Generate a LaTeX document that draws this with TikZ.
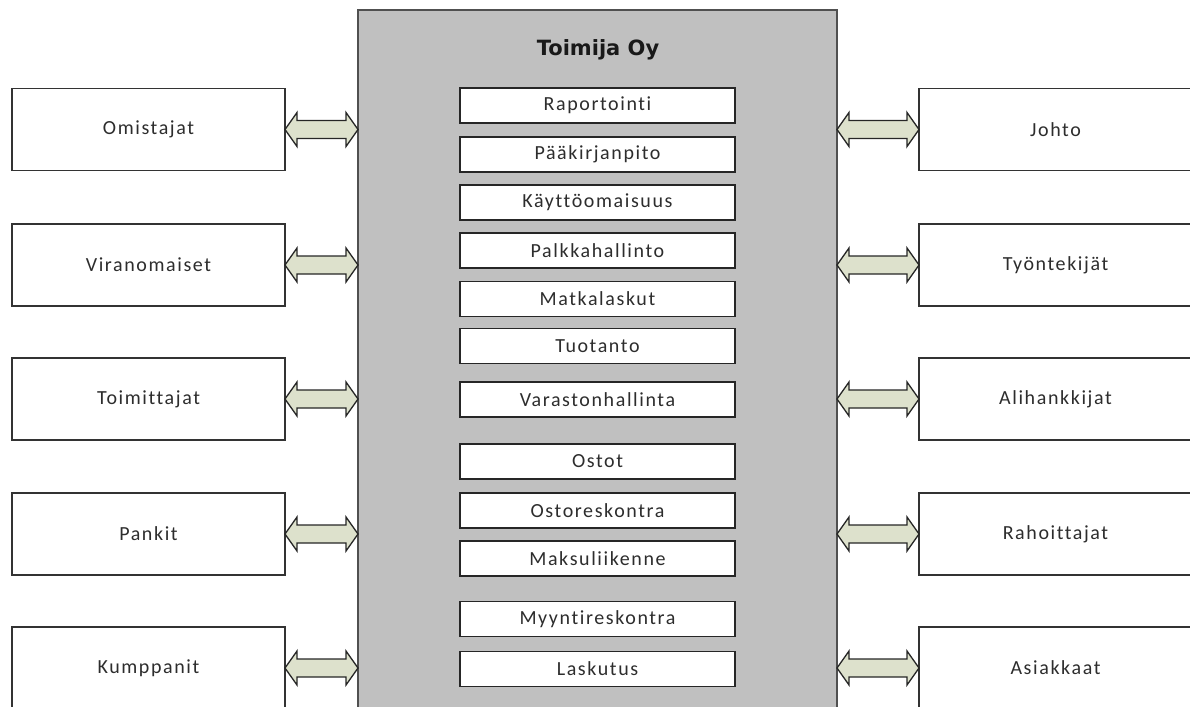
\documentclass[tikz,border=0pt]{standalone}
\usepackage{fontspec}
\setmainfont{Carlito}[LetterSpace=8,Ligatures={NoCommon,NoRare,NoContextual}]
\newfontfamily\titlefont{DejaVu Sans}
\usetikzlibrary{calc,positioning}
\definecolor{firmgray}{RGB}{192,192,192}
\definecolor{firmedge}{RGB}{80,80,80}
\definecolor{linkfill}{RGB}{221,225,204}
\definecolor{txtgray}{RGB}{45,45,45}
\newcommand{\dblarrow}[2]{%
  \filldraw[link] (#1) -- ($(#1)+(12,-17)$) -- ($(#1)+(12,-9)$) -- ($(#2)+(-12,-9)$) -- ($(#2)+(-12,-17)$) -- (#2)
    -- ($(#2)+(-12,17)$) -- ($(#2)+(-12,9)$) -- ($(#1)+(12,9)$) -- ($(#1)+(12,17)$) -- cycle;}

\begin{document}
\begin{tikzpicture}[
    x=1pt, y=-1pt,
    font=\fontsize{20pt}{22pt}\selectfont,
    party/.style={draw=black!80, line width=1.3pt, fill=white, text=txtgray, minimum width=273pt, minimum height=82pt, outer sep=0pt},
    unit/.style={draw=black!85, line width=1.5pt, fill=white, text=txtgray, minimum width=275pt, minimum height=35pt, outer sep=0pt},
    firm/.style={draw=firmedge, line width=2pt, fill=firmgray, minimum width=479pt, minimum height=720pt, outer sep=0pt},
    link/.style={draw=black!85, line width=1.3pt, fill=linkfill, line join=miter}
]
    \useasboundingbox (0,0) rectangle (1190,706);

    \node[firm] (firm) at (597.5,370) {};
    \node[text=black!90, font=\titlefont\bfseries\fontsize{21pt}{24pt}\selectfont] (title) at (598,50) {Toimija Oy};

    \node[unit] (rap) at (597.5,105.5) {Raportointi};
    \node[unit] (paak) at (597.5,154.5) {Pääkirjanpito};
    \node[unit] (kaytto) at (597.5,202.5) {Käyttöomaisuus};
    \node[unit] (palkka) at (597.5,250.5) {Palkkahallinto};
    \node[unit] (matka) at (597.5,299) {Matkalaskut};
    \node[unit] (tuot) at (597.5,346) {Tuotanto};
    \node[unit] (varasto) at (597.5,399.5) {Varastonhallinta};
    \node[unit] (ostot) at (597.5,461.5) {Ostot};
    \node[unit] (ostores) at (597.5,510.5) {Ostoreskontra};
    \node[unit] (maksu) at (597.5,558.5) {Maksuliikenne};
    \node[unit] (myyres) at (597.5,619) {Myyntireskontra};
    \node[unit] (lask) at (597.5,669) {Laskutus};

    \node[party] (omist) at (148.5,129.5) {Omistajat};
    \node[party] (viran) at (148.5,265) {Viranomaiset};
    \node[party] (toimit) at (148.5,399) {Toimittajat};
    \node[party] (pankit) at (148.5,534) {Pankit};
    \node[party] (kump) at (148.5,668) {Kumppanit};

    \node[party] (johto) at (1055.5,129.5) {Johto};
    \node[party] (tyont) at (1055.5,265) {Työntekijät};
    \node[party] (alihank) at (1055.5,399) {Alihankkijat};
    \node[party] (rahoit) at (1055.5,534) {Rahoittajat};
    \node[party] (asiak) at (1055.5,668) {Asiakkaat};

    \dblarrow{omist.east}{firm.west |- omist.east}
    \dblarrow{viran.east}{firm.west |- viran.east}
    \dblarrow{toimit.east}{firm.west |- toimit.east}
    \dblarrow{pankit.east}{firm.west |- pankit.east}
    \dblarrow{kump.east}{firm.west |- kump.east}

    \dblarrow{firm.east |- johto.west}{johto.west}
    \dblarrow{firm.east |- tyont.west}{tyont.west}
    \dblarrow{firm.east |- alihank.west}{alihank.west}
    \dblarrow{firm.east |- rahoit.west}{rahoit.west}
    \dblarrow{firm.east |- asiak.west}{asiak.west}
\end{tikzpicture}
\end{document}
